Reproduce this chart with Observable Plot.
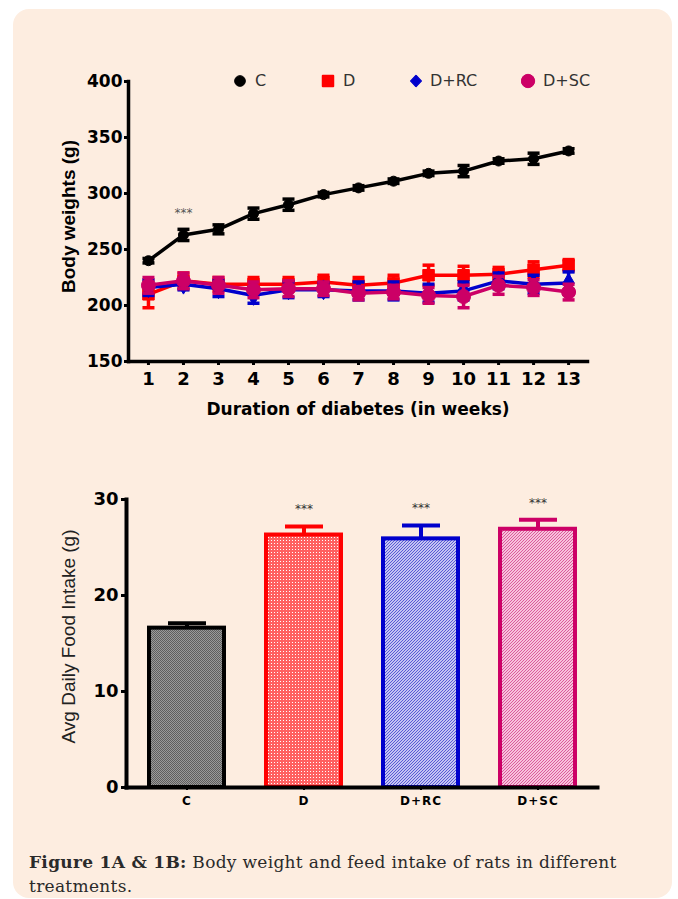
<!DOCTYPE html>
<html>
<head>
<meta charset="utf-8">
<script src="https://cdn.jsdelivr.net/npm/d3@7"></script>
<script src="https://cdn.jsdelivr.net/npm/@observablehq/plot@0.6"></script>
<style>
html, body { margin: 0; padding: 0; background: #ffffff; }
#page { position: relative; width: 678px; height: 899px; overflow: hidden; }
#panel { position: absolute; left: 13px; top: 9px; width: 659px; height: 889px; border-radius: 16px; background: #fdede0; }
#chartA, #chartB { position: absolute; left: 0; }
#chartA { top: 0; }
#chartB { top: 440px; }
.lg-item { position: absolute; top: 72px; height: 18px; line-height: 18px; font-family: "DejaVu Sans", sans-serif; font-size: 16px; color: #333; white-space: nowrap; }
.lg-item svg { position: absolute; left: 0; top: 0; }
#caption { position: absolute; left: 29px; top: 850px; width: 620px; font-family: "DejaVu Serif", serif; font-size: 17px; letter-spacing: 0.3px; line-height: 24px; color: #2a2a2a; }
#caption div { white-space: nowrap; height: 24px; }
#chartB g[aria-label="x-axis tick label"] text { letter-spacing: 1px; }
</style>
</head>
<body>
<div id="page">
  <div id="panel"></div>
  <div id="chartA"></div>
  <div id="legend"></div>
  <div id="chartB"></div>
  <div id="caption">
    <div><b>Figure 1A &amp; 1B:</b><span> Body weight and feed intake of rats in different</span></div>
    <div><span>treatments.</span></div>
  </div>
</div>
<script>
// ---------- Data: Figure 1A (body weight, g) ----------
const weeks = [1, 2, 3, 4, 5, 6, 7, 8, 9, 10, 11, 12, 13];
const seriesNames = ["C", "D", "D+RC", "D+SC"];
const weightC    = [240, 263, 268, 282, 290, 299, 305, 311, 318, 320, 329, 331, 338];
const weightCErr = [2, 5, 4, 5, 5, 2, 2, 2, 2, 5, 2, 5, 2];
const weightD    = [210, 222, 219, 219, 219, 221, 218, 220, 227, 227, 228, 232, 236];
const weightDErr = [12, 7, 6, 6, 6, 6, 7, 7, 9, 8, 6, 7, 5];
const weightRC    = [216, 219, 215, 209, 214, 214, 213, 213, 211, 213, 222, 219, 220];
const weightRCErr = [7, 5, 7, 7, 7, 6, 8, 8, 8, 8, 7, 8, 10];
const weightSC    = [218, 222, 218, 214, 215, 215, 211, 212, 209, 208, 218, 216, 212];
const weightSCErr = [7, 7, 7, 7, 7, 6, 6, 6, 7, 10, 8, 7, 7];
const yTicksA = [150, 200, 250, 300, 350, 400];
const sigA = [{ series: "C", week: 2, label: "***" }];
const titleAY = ["Body weights (g)"];
const titleAX = ["Duration of diabetes (in weeks)"];

// ---------- Data: Figure 1B (avg daily food intake, g) ----------
const groups = ["C", "D", "D+RC", "D+SC"];
const intake    = [16.6, 26.3, 25.9, 26.9];
const intakeErr = [0.5, 0.9, 1.4, 1.0];
const sigB = ["", "***", "***", "***"];
const yTicksB = [0, 10, 20, 30];
const titleBY = ["Avg Daily Food Intake (g)"];

// ---------- Styles ----------
const colors  = ["#000000", "#ff0000", "#0000cc", "#cc0066"];
const symbols = ["circle", "square", "diamond", "circle"];
const radii   = [5, 6.5, 6, 7];
const tickFont = "DejaVu Sans";
const titleFont = "Liberation Sans";

const hbar = { draw(ctx, size) { const w = Math.sqrt(size / Math.PI); ctx.moveTo(-w, 0); ctx.lineTo(w, 0); } };

const valuesBySeries = [weightC, weightD, weightRC, weightSC];
const errBySeries = [weightCErr, weightDErr, weightRCErr, weightSCErr];
const rowsA = seriesNames.flatMap((s, i) => weeks.map((w, j) => ({
  series: s, week: w, value: valuesBySeries[i][j], err: errBySeries[i][j]
})));

const seriesMarks = seriesNames.flatMap((s, i) => {
  const d = rowsA.filter(r => r.series === s);
  return [
    Plot.line(d, { x: "week", y: "value", stroke: colors[i], strokeWidth: 3.5 }),
    Plot.ruleX(d, { x: "week", y1: r => r.value - r.err, y2: r => r.value + r.err, stroke: colors[i], strokeWidth: 3.5 }),
    Plot.dot(d, { x: "week", y: r => r.value + r.err, symbol: hbar, r: 6, stroke: colors[i], strokeWidth: 3.5 }),
    Plot.dot(d, { x: "week", y: r => r.value - r.err, symbol: hbar, r: 6, stroke: colors[i], strokeWidth: 3.5 }),
    Plot.dot(d, { x: "week", y: "value", symbol: symbols[i], r: radii[i], fill: colors[i], stroke: colors[i], strokeWidth: 1 })
  ];
});

const sigARows = sigA.map(s => {
  const r = rowsA.find(q => q.series === s.series && q.week === s.week);
  return { week: s.week, top: r.value + r.err, label: s.label };
});

const chartA = Plot.plot({
  width: 678, height: 430,
  marginLeft: 128, marginRight: 91, marginTop: 81, marginBottom: 69,
  style: { background: "transparent", overflow: "visible" },
  x: { domain: [0.43, 13.54] },
  y: { domain: [150, 400] },
  marks: [
    Plot.axisY({ ticks: yTicksA, tickSize: 4, tickPadding: 2, fontSize: 17, fontWeight: "bold", fontFamily: tickFont, strokeWidth: 3, label: null }),
    Plot.axisX({ ticks: weeks, tickSize: 4, tickPadding: 7, fontSize: 18, fontWeight: "bold", fontFamily: tickFont, strokeWidth: 3, label: null }),
    Plot.frame({ anchor: "left", strokeWidth: 3.5 }),
    Plot.frame({ anchor: "bottom", strokeWidth: 3.5 }),
    Plot.text(titleAY, { text: d => d, frameAnchor: "left", textAnchor: "middle", rotate: -90, dx: -60, dy: -5, fontSize: 19, fontWeight: "bold", fontFamily: titleFont }),
    Plot.text(titleAX, { text: d => d, frameAnchor: "bottom", dy: 48, lineAnchor: "middle", fontSize: 17, fontWeight: "bold", fontFamily: tickFont }),
    ...seriesMarks,
    Plot.text(sigARows, { x: "week", y: "top", text: "label", dy: -16, fontSize: 12, fill: "#555", fontFamily: "DejaVu Sans" })
  ]
});
document.getElementById("chartA").appendChild(chartA);

// Legend (HTML)
const legendLeft = [233, 321, 408, 521];
const legend = document.getElementById("legend");
seriesNames.forEach((s, i) => {
  const item = document.createElement("div");
  item.className = "lg-item";
  item.style.left = legendLeft[i] + "px";
  item.style.paddingLeft = "22px";
  const icon = d3.create("svg").attr("width", 18).attr("height", 18);
  const sym = d3.symbol().type(i === 1 ? d3.symbolSquare : i === 2 ? d3.symbolDiamond : d3.symbolCircle)
    .size(i === 0 ? 90 : i === 1 ? 110 : i === 2 ? 60 : 140);
  icon.append("path").attr("d", sym()).attr("transform", i === 2 ? "translate(8,9) scale(1.3,0.8)" : "translate(7,9)")
    .attr("fill", colors[i]).attr("stroke", colors[i]).attr("stroke-linejoin", "round").attr("stroke-width", i === 1 ? 2 : 1);
  item.appendChild(icon.node());
  item.appendChild(document.createTextNode(s));
  legend.appendChild(item);
});

// ---------- Chart B ----------
const rowsB = groups.map((g, i) => ({ group: g, value: intake[i], err: intakeErr[i], top: intake[i] + intakeErr[i], sig: sigB[i] }));
const patternIds = ["patC", "patD", "patRC", "patSC"];

const barMarks = groups.flatMap((g, i) => {
  const d = rowsB.filter(r => r.group === g);
  return [
    Plot.barY(d, { x: "group", y: "value", fill: `url(#${patternIds[i]})`, stroke: colors[i], strokeWidth: 4 }),
    Plot.ruleX(d, { x: "group", y1: "value", y2: "top", stroke: colors[i], strokeWidth: 4 }),
    Plot.dot(d, { x: "group", y: "top", symbol: hbar, r: 19, stroke: colors[i], strokeWidth: 4 })
  ];
});

const chartB = Plot.plot({
  width: 678, height: 380,
  marginLeft: 126, marginRight: 81, marginTop: 59, marginBottom: 33,
  style: { background: "transparent", overflow: "visible" },
  x: { domain: groups, paddingInner: 0.36, paddingOuter: 0.18 },
  y: { domain: [0, 30] },
  marks: [
    ...barMarks,
    Plot.axisY({ ticks: yTicksB, tickSize: 5, tickPadding: 3, fontSize: 18, fontWeight: "bold", fontFamily: tickFont, strokeWidth: 3, label: null }),
    Plot.axisX({ tickSize: 3, tickPadding: 6, fontSize: 12, fontWeight: "bold", fontFamily: tickFont, strokeWidth: 2, label: null }),
    Plot.frame({ anchor: "left", strokeWidth: 4 }),
    Plot.frame({ anchor: "bottom", strokeWidth: 4 }),
    Plot.text(titleBY, { text: d => d, frameAnchor: "left", textAnchor: "middle", rotate: -90, dx: -58, dy: -7, fontSize: 19, fontFamily: titleFont, fill: "#222" }),
    Plot.text(rowsB.filter(r => r.sig), { x: "group", y: "top", text: "sig", dy: -17, fontSize: 12, fill: "#333", fontFamily: "DejaVu Sans" })
  ]
});

// SVG patterns for bar fills
const NS = "http://www.w3.org/2000/svg";
const defs = document.createElementNS(NS, "defs");
function makePattern(id, size, parts) {
  const p = document.createElementNS(NS, "pattern");
  p.setAttribute("id", id);
  p.setAttribute("patternUnits", "userSpaceOnUse");
  p.setAttribute("width", size);
  p.setAttribute("height", size);
  parts.forEach(([tag, attrs]) => {
    const el = document.createElementNS(NS, tag);
    Object.entries(attrs).forEach(([k, v]) => el.setAttribute(k, v));
    p.appendChild(el);
  });
  defs.appendChild(p);
}
makePattern("patC", 2, [["rect", { width: 2, height: 2, fill: "#9a9a9a" }], ["rect", { width: 1, height: 1, fill: "#5e5e5e" }], ["rect", { x: 1, y: 1, width: 1, height: 1, fill: "#5e5e5e" }]]);
makePattern("patD", 3, [["rect", { width: 3, height: 3, fill: "#ff6060" }], ["rect", { x: 1, y: 1, width: 1, height: 1, fill: "#ffffff" }]]);
makePattern("patRC", 3, [["rect", { width: 3, height: 3, fill: "#c4c4f2" }], ["path", { d: "M0,3L3,0M-1,1L1,-1M2,4L4,2", stroke: "#5a5ad4", "stroke-width": 1 }]]);
makePattern("patSC", 3, [["rect", { width: 3, height: 3, fill: "#f7c2dc" }], ["path", { d: "M0,3L3,0M-1,1L1,-1M2,4L4,2", stroke: "#dc5a9c", "stroke-width": 1 }]]);
chartB.insertBefore(defs, chartB.firstChild);
document.getElementById("chartB").appendChild(chartB);
</script>
</body>
</html>
